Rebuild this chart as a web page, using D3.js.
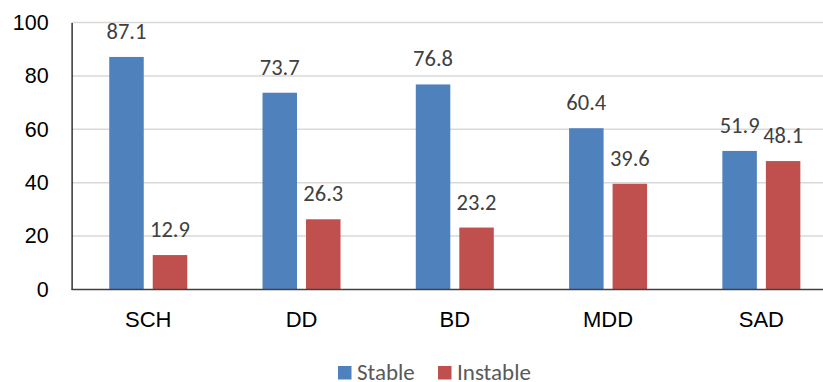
<!DOCTYPE html>
<html>
<head>
<meta charset="utf-8">
<script src="https://cdn.jsdelivr.net/npm/d3@7"></script>
<style>
  html, body { margin: 0; padding: 0; background: #fff; }
  svg { display: block; font-family: Calibri, Carlito, Lato, "Open Sans", sans-serif; }
</style>
</head>
<body>
<svg id="chart" width="823" height="382"></svg>
<script>
// Diagnosis groups and share of stable / instable cases (%)
const categories = ["SCH", "DD", "BD", "MDD", "SAD"];
const seriesNames = ["Stable", "Instable"];
const stableValues = [87.1, 73.7, 76.8, 60.4, 51.9];
const instableValues = [12.9, 26.3, 23.2, 39.6, 48.1];
const yTicks = [0, 20, 40, 60, 80, 100];
const seriesColors = ["#4f81bd", "#c0504d"];

const svg = d3.select("#chart");
const W = 823, H = 382;
const plot = { left: 71.6, right: 838, top: 22.5, bottom: 289.5 };

const rows = categories.map((c, i) => ({
  category: c,
  values: [
    { series: seriesNames[0], value: stableValues[i] },
    { series: seriesNames[1], value: instableValues[i] }
  ]
}));

const y = d3.scaleLinear().domain([0, 100]).range([plot.bottom, plot.top]);
const x0 = d3.scaleBand().domain(categories).range([plot.left, plot.right]);
const groupW = 78;
const x1 = d3.scaleBand().domain(seriesNames)
  .range([(x0.bandwidth() - groupW) / 2, (x0.bandwidth() + groupW) / 2])
  .paddingInner(0.207);
const color = d3.scaleOrdinal().domain(seriesNames).range(seriesColors);

// horizontal gridlines
svg.append("g")
  .selectAll("line")
  .data(yTicks.filter(t => t > 0))
  .join("line")
  .attr("x1", plot.left).attr("x2", W)
  .attr("y1", d => y(d)).attr("y2", d => y(d))
  .attr("stroke", "#d9d9d9").attr("stroke-width", 1.5);

// y axis
const yAxis = svg.append("g")
  .attr("transform", `translate(${plot.left},0)`)
  .call(d3.axisLeft(y).tickValues(yTicks).tickSize(0).tickPadding(23));
yAxis.select(".domain").attr("stroke", "#000").attr("stroke-width", 1.2);
yAxis.selectAll("text").attr("font-size", 21.5).attr("fill", "#000")
  .style("font-family", "inherit");

// bars
const groups = svg.append("g")
  .selectAll("g")
  .data(rows)
  .join("g")
  .attr("transform", d => `translate(${x0(d.category)},0)`);

groups.selectAll("rect")
  .data(d => d.values)
  .join("rect")
  .attr("x", d => x1(d.series))
  .attr("width", x1.bandwidth())
  .attr("y", d => y(d.value))
  .attr("height", d => y(0) - y(d.value))
  .attr("fill", d => color(d.series));

// value labels
groups.selectAll("text")
  .data(d => d.values)
  .join("text")
  .attr("x", d => x1(d.series) + x1.bandwidth() / 2)
  .attr("y", d => y(d.value) - 18)
  .attr("text-anchor", "middle")
  .attr("font-size", 22.5)
  .attr("fill", "#404040")
  .text(d => d.value.toFixed(1));

// x axis
const xAxis = svg.append("g")
  .attr("transform", `translate(0,${plot.bottom})`)
  .call(d3.axisBottom(x0).tickSize(0).tickPadding(22));
xAxis.select(".domain").attr("stroke", "#404040").attr("stroke-width", 1.5)
  .attr("d", `M${plot.left},0H${W}`);
xAxis.selectAll("text").attr("font-size", 22).attr("fill", "#000")
  .style("font-family", "inherit");

// legend
const legendX = [338, 438];
const legend = svg.append("g")
  .selectAll("g")
  .data(seriesNames)
  .join("g")
  .attr("transform", (d, i) => `translate(${legendX[i]},366)`);
legend.append("rect")
  .attr("width", 13.5).attr("height", 13.5)
  .attr("fill", d => color(d));
legend.append("text")
  .attr("x", 19).attr("y", 14)
  .attr("font-size", 23)
  .attr("fill", "#595959")
  .text(d => d);
</script>
</body>
</html>
